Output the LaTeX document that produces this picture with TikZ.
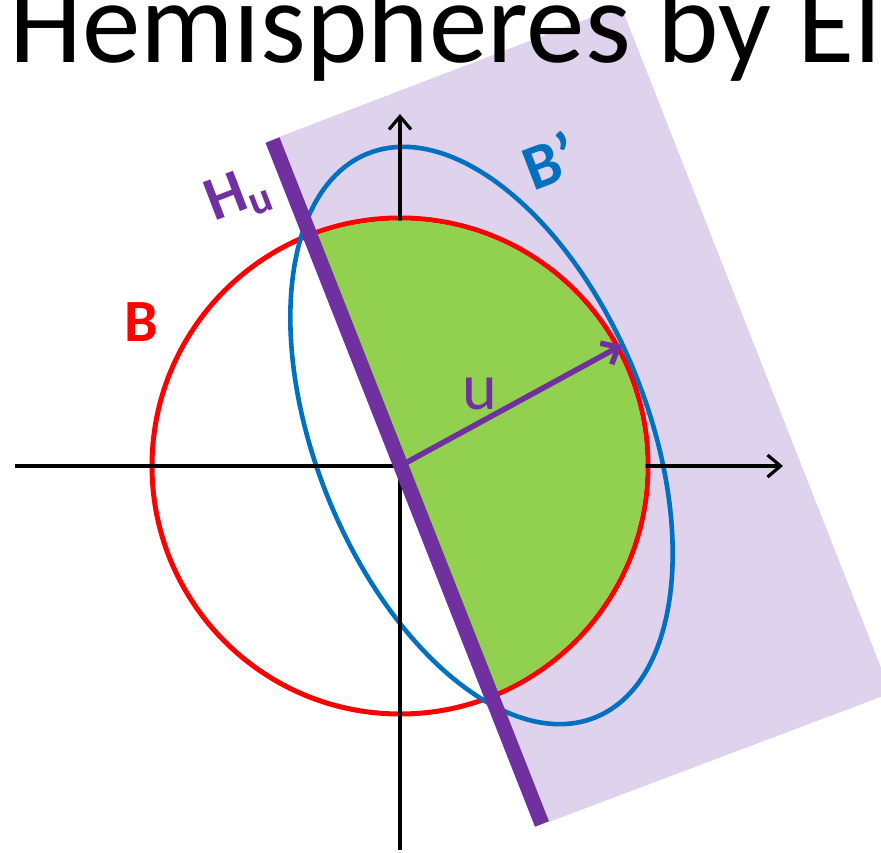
\documentclass[tikz,border=0pt]{standalone}
\usepackage{fontspec}
\setmainfont{Carlito}
\usetikzlibrary{arrows.meta}
\definecolor{hpurple}{RGB}{112,48,160}
\definecolor{bred}{RGB}{255,0,0}
\definecolor{bblue}{RGB}{0,112,192}
\definecolor{hgreen}{RGB}{146,208,80}
\definecolor{shadecol}{RGB}{222,210,237}
\begin{document}
\begin{tikzpicture}[x=1pt,y=-1pt,
  axisline/.style={line width=3.2pt, -{Straight Barb[length=13pt,width=22pt]}},
  lbl/.style={inner sep=0pt},
]
\useasboundingbox (0,0) rectangle (881,853);
\clip (0,0) rectangle (881,853);
% key points
\coordinate (O) at (400,466);
\coordinate (Ltop) at (272.5,140);
\coordinate (Lbot) at (542,824);
\coordinate (Uend) at (622,345);
\coordinate (Xl) at (15,466);
\coordinate (Xr) at (783,466);
\coordinate (Yb) at (400,850);
\coordinate (Yt) at (400,114);
\coordinate (Ec) at (481.5,435.5);
% half-space shading
\fill[shadecol] (279,137) -- (621,6) -- (891,693) -- (549,822) -- cycle;
% title
\node[anchor=base west, inner sep=0pt, font=\fontsize{117}{117}\selectfont] (title) at (9,63) {Hemispheres by El};
% circle B
\draw[bred, line width=5pt] (O) circle[radius=248];
% ellipse B'
\begin{scope}[shift={(Ec)}, rotate=22]
  \draw[bblue, line width=4.6pt] (0,0) ellipse[x radius=165.6, y radius=304];
\end{scope}
% axes
\draw[axisline] (Xl) -- (Xr);
\draw[axisline] (Yb) -- (Yt);
% green hemisphere
\begin{scope}
  \clip (Ltop) -- (640,-5) -- (910,690) -- (Lbot) -- cycle;
  \fill[hgreen] (O) circle[radius=245.5];
\end{scope}
% hyperplane H_u
\draw[hpurple, line width=15pt] (Ltop) -- (Lbot);
% vector u
\draw[hpurple, line width=5.5pt, -{Straight Barb[length=14pt,width=24pt]}] (O) -- (Uend);
% labels
\node[lbl, text=bred, font=\bfseries\fontsize{60}{60}\selectfont] (Blab) at (141,322) {B};
\node[lbl, text=bblue, rotate=21, font=\bfseries\fontsize{64}{64}\selectfont] (Bplab) at (550,160) {B’};
\node[lbl, text=hpurple, rotate=21, font=\bfseries\fontsize{62}{62}\selectfont] (Hlab) at (238,196) {H\raisebox{-10pt}{\fontsize{42}{42}\selectfont u}};
\node[lbl, text=hpurple, font=\fontsize{66}{66}\selectfont] (ulab) at (480,394) {u};
\end{tikzpicture}
\end{document}
